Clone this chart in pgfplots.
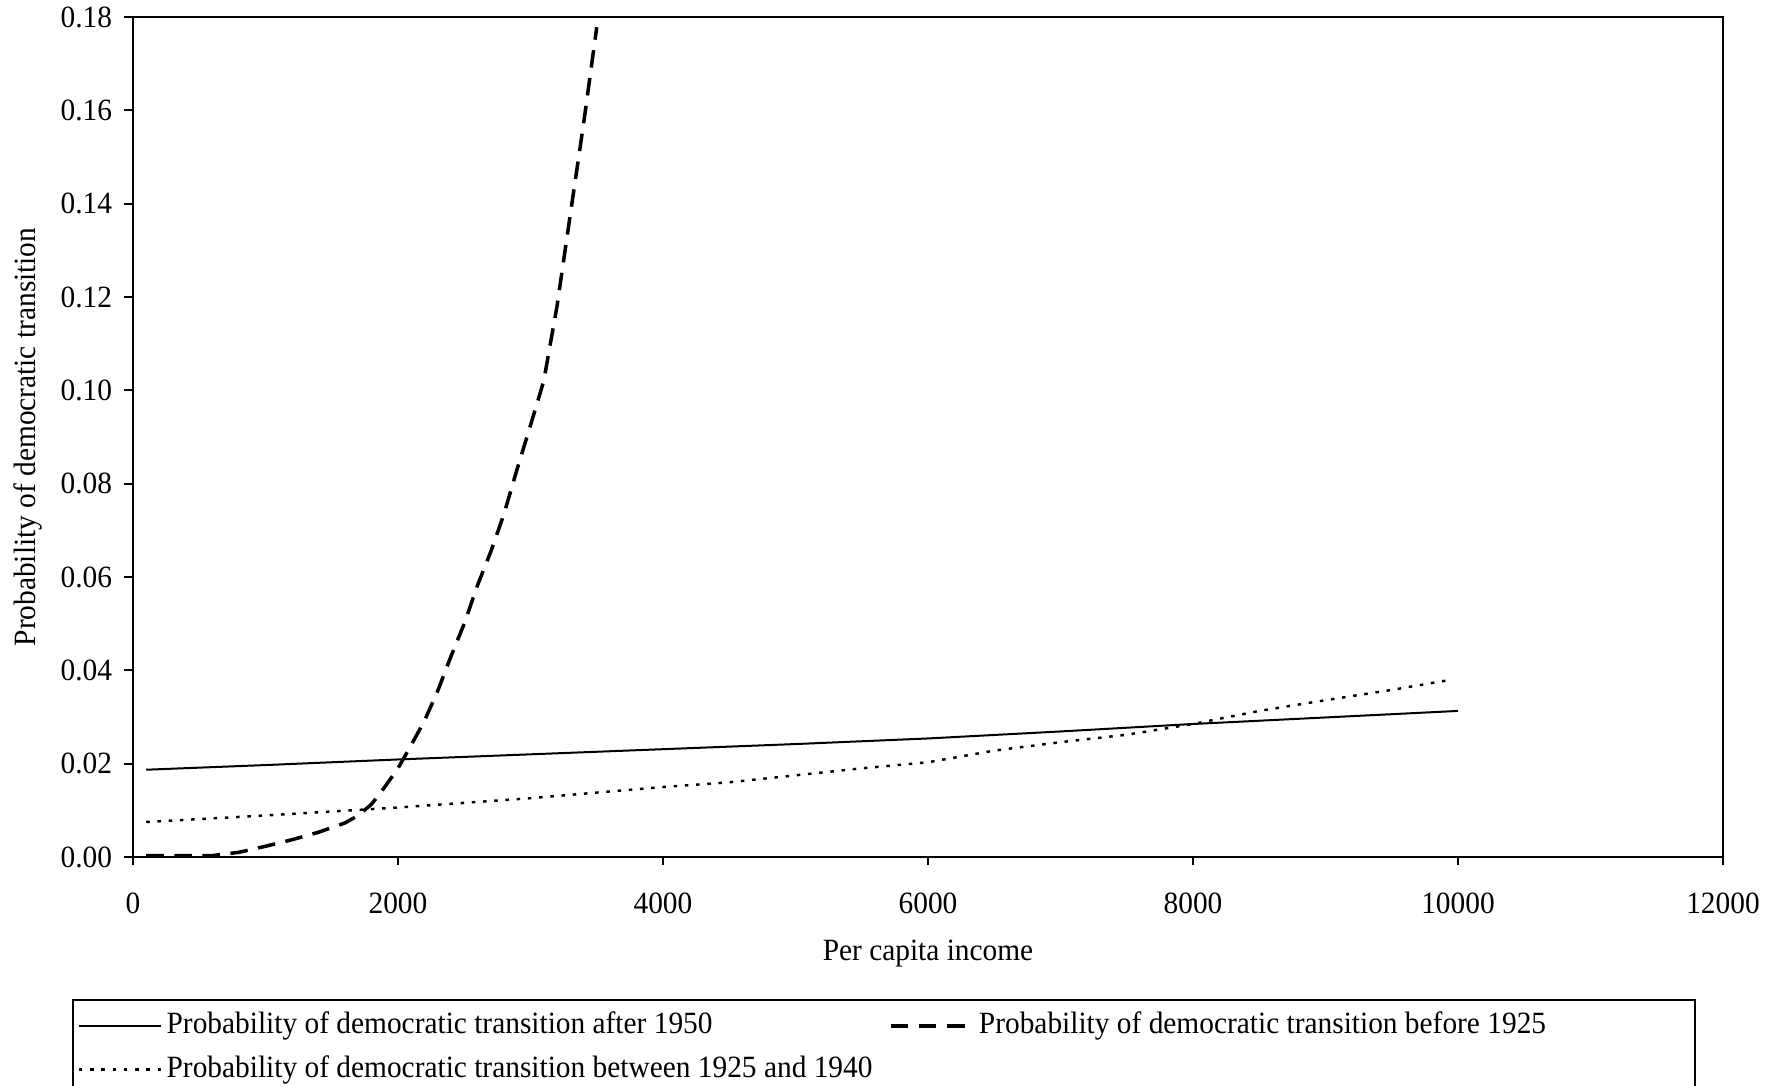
\documentclass[border=0pt]{standalone}
\usepackage{fontspec}
\setmainfont{Liberation Serif}[FakeStretch=0.95]
\usepackage{pgfplots}
\pgfplotsset{compat=1.18}

\newcommand{\chartfont}{\fontsize{8.8}{10.5}\selectfont}

\begin{document}
\begin{tikzpicture}
\begin{axis}[
    scale only axis,
    width=15.90cm,
    height=8.40cm,
    xmin=0, xmax=12000,
    ymin=0, ymax=0.18,
    xtick={0,2000,...,12000},
    ytick={0,0.02,...,0.18},
    xtick pos=left, ytick pos=left,
    tick align=outside,
    major tick length=0.085cm,
    axis line style={line width=0.57pt},
    every tick/.style={black, line width=0.57pt},
    /pgf/number format/assume math mode=true,
    /pgf/number format/1000 sep={},
    scaled x ticks=false,
    scaled y ticks=false,
    yticklabel style={/pgf/number format/fixed, /pgf/number format/fixed zerofill,
        /pgf/number format/precision=2},
    xticklabel style={yshift=-0.15cm},
    tick label style={font=\chartfont},
    label style={font=\chartfont},
    xlabel={Per capita income},
    ylabel={Probability of democratic transition},
    xlabel style={at={(axis description cs:0.5,-0.1155)}, anchor=center},
    ylabel style={at={(axis description cs:-0.066,0.5)}, anchor=center},
    legend columns=2,
    legend cell align=left,
    legend image code/.code={\draw[#1] (0cm,0cm) -- (0.82cm,0cm);},
    legend style={
        draw=none, fill=none, font=\chartfont,
        at={(0,0)}, anchor=north west, xshift=-0.56cm, yshift=-1.535cm,
        inner sep=0pt, row sep=0.145cm,
        nodes={inner xsep=0.045cm, inner ysep=0pt, text height=6.3pt, text depth=2pt},
        /tikz/every even column/.append style={column sep=0.12cm},
    },
]

% after 1950
\addplot[black, line width=0.57pt] coordinates {
    (100,0.0187) (1000,0.0197) (2000,0.0209) (3000,0.0220) (4000,0.0231)
    (5000,0.0242) (6000,0.0254) (7000,0.0269) (8000,0.0285) (9000,0.0299)
    (10000,0.0313)
};
\addlegendentry{Probability of democratic transition after 1950}

% before 1925
\addplot[black, line width=1pt, dash pattern=on 5pt off 3pt] coordinates {
    (100,0.0003) (400,0.0003) (600,0.0003) (800,0.0010) (1000,0.0023)
    (1200,0.0037) (1400,0.0053) (1600,0.0073) (1700,0.0089) (1800,0.0113)
    (1900,0.0150) (2000,0.0190) (2100,0.0240) (2200,0.0292) (2300,0.0356)
    (2400,0.0430) (2500,0.0500) (2600,0.0582) (2700,0.0654) (2800,0.0735)
    (2900,0.0832) (3000,0.0925) (3100,0.1020) (3200,0.1180) (3300,0.1376)
    (3400,0.1570) (3500,0.1778)
};
\addlegendentry{Probability of democratic transition before 1925}

% between 1925 and 1940
\addplot[black, line width=0.7pt, dash pattern=on 1pt off 2.2pt] coordinates {
    (100,0.0075) (1000,0.0089) (2000,0.0106) (3000,0.0126) (4000,0.0150)
    (4500,0.0160) (5000,0.0175) (5500,0.0190) (6000,0.0203) (6500,0.0228)
    (7000,0.0246) (7500,0.0262) (8000,0.0285) (8500,0.0313) (9000,0.0336)
    (9500,0.0358) (9950,0.0380)
};
\addlegendentry{Probability of democratic transition between 1925 and 1940}

\end{axis}
% legend frame, its lower edge falls below the picture as in the original
\draw[line width=0.57pt] (-0.60,-1.43) rectangle (15.62,-2.60);
\pgfresetboundingbox
\useasboundingbox (-1.33,-2.29) rectangle (16.50,8.57);
\end{tikzpicture}
\end{document}
